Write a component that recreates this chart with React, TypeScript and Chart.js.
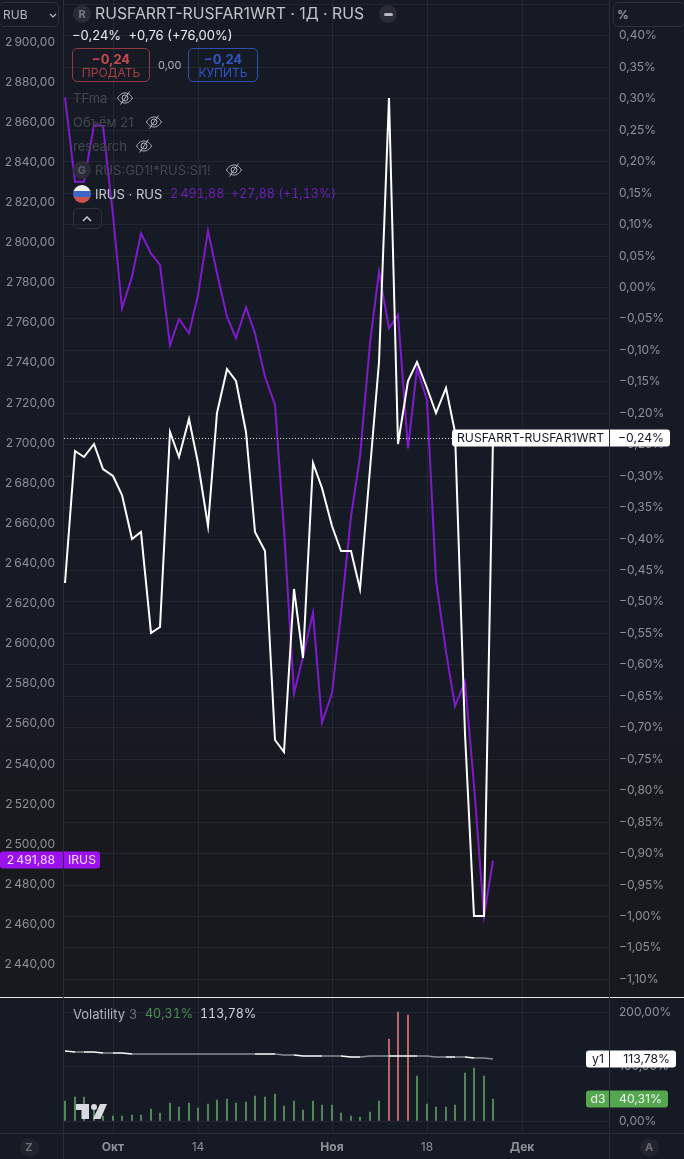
import { useEffect, useRef } from "react";
import type { CSSProperties, ReactNode } from "react";
import { Chart, registerables } from "chart.js";

Chart.register(...registerables);

const FONT = "Inter, sans-serif";

// closing values, one per trading day, Sep 24 - Nov 27
const irusValues = [
  2872.4, 2830.3, 2830.3, 2858.6, 2858.1, 2813.7, 2767.2, 2783, 2804.6, 2794.6, 2788.8, 2748.9, 2761.9, 2754.7, 2773.8, 2805.9,
  2784.7, 2763, 2752.3, 2767.7, 2754.7, 2733.1, 2719, 2656.7, 2575.2, 2593.5, 2615.4, 2560.6, 2575.2, 2615.1, 2663.3, 2693.2,
  2749.8, 2785.5, 2757.2, 2763.9, 2697.4, 2737.3, 2721.5, 2631.7, 2596, 2568.9, 2581, 2529.5, 2464, 2491.88,
];
const spreadValues = [
  -0.47, -0.26, -0.27, -0.25, -0.29, -0.3, -0.33, -0.4, -0.39, -0.55, -0.54, -0.23, -0.27, -0.21, -0.28, -0.38,
  -0.2, -0.13, -0.15, -0.23, -0.39, -0.42, -0.72, -0.74, -0.48, -0.59, -0.28, -0.32, -0.38, -0.42, -0.42, -0.48,
  -0.29, -0.12, 0.3, -0.25, -0.15, -0.12, -0.16, -0.2, -0.16, -0.23, -0.71, -1, -1, -0.24,
];
const volatilityD3 = [
  37.7, 45, 45, 20, 10.3, 10.3, 10.3, 12, 12, 23, 15.8, 34, 26.8, 34, 25, 32,
  39.5, 41.3, 34, 35.9, 46.8, 45, 50.5, 28.6, 37.7, 21.3, 37.7, 30.4, 30.4, 15.8, 10.3, 8.5,
  17.6, 37.7, 150.8, 200, 194.6, 83.3, 32.2, 26.8, 26.8, 30.4, 88.8, 97.9, 83.3, 40.31,
];
const volatilityY1 = [
  127.5, 127.2, 126.5, 126, 125.5, 125, 124.2, 123.2, 122.8, 122.8, 122.8, 122.8, 122.8, 122.8, 122.8, 122.8,
  122.8, 122.8, 122.8, 122.8, 122.8, 122.6, 121.9, 121.2, 120.4, 119.9, 119.2, 118.9, 118.9, 118.6, 118.2, 118.2,
  118.3, 118.6, 119, 119.3, 119, 118.8, 118.6, 118.2, 117.8, 117.5, 117.1, 116, 114.8, 113.78,
];
// 1 = bright segment of the y1 line, 0 = grey one
const y1Bright = [
  1, 0, 1, 1, 0, 1, 1, 0, 0, 0, 0, 0, 0, 0, 0, 0,
  0, 0, 0, 0, 1, 1, 0, 0, 1, 1, 1, 0, 0, 1, 1, 0,
  0, 0, 1, 1, 1, 0, 0, 0, 1, 0, 1, 0, 0,
];

const xTickIndex = [5, 14, 28, 38, 48];
const xTickLabels = ["Окт", "14", "Ноя", "18", "Дек"];
const xTickBold = ["Окт", "Ноя", "Дек"];
const priceTicks = [2440, 2460, 2480, 2500, 2520, 2540, 2560, 2580, 2600, 2620, 2640, 2660, 2680, 2700, 2720, 2740, 2760, 2780, 2800, 2820, 2840, 2860, 2880, 2900];
const percentTicks = [-1.1, -1.05, -1, -0.95, -0.9, -0.85, -0.8, -0.75, -0.7, -0.65, -0.6, -0.55, -0.5, -0.45, -0.4, -0.35, -0.3, -0.25, -0.2, -0.15, -0.1, -0.05, 0, 0.05, 0.1, 0.15, 0.2, 0.25, 0.3, 0.35, 0.4, 0.45];
const volatilityTicks = [0, 100, 200];

const GRID = "rgba(255,255,255,0.055)";
const LABEL = "#8f9198";
const PURPLE = "#7f1bca";
const PILL_PURPLE = "#9c12ee";
const GREEN = "#5f9d63";
const RED = "#e0766f";
const VOL_HIGH = 100;

const fmt = (v: number) => v.toFixed(2).replace(".", ",").replace("-", "\u2212");
const fmtPrice = (v: number) => {
  const s = fmt(v);
  return s.length > 6 ? s.slice(0, 1) + "\u2009" + s.slice(1) : s;
};
const fmtPct = (v: number) => fmt(Math.abs(v) < 0.001 ? 0 : v) + "%";
const xy = (values: number[]) => values.map((y, x) => ({ x, y }));

// chart.js reserves half a label plus tick padding around the area, this chart wants the panes edge to edge
const noPadding = (s: any) => {
  s.paddingTop = 0;
  s.paddingBottom = 0;
  s.paddingLeft = 0;
  s.paddingRight = 0;
};

const xScale = (opts: object) => ({
  type: "linear" as const,
  min: -0.137,
  max: 57.28,
  offset: false,
  alignToPixels: true,
  afterBuildTicks: (s: any) => {
    s.ticks = xTickIndex.map(value => ({ value }));
  },
  ...opts,
});

const pill = (ctx: CanvasRenderingContext2D, x: number, y: number, w: number, h: number, r: number | number[], fill: string) => {
  ctx.fillStyle = fill;
  ctx.beginPath();
  ctx.roundRect(x, y, w, h, r);
  ctx.fill();
};

const text = (ctx: CanvasRenderingContext2D, s: string, x: number, y: number, color: string, align: CanvasTextAlign = "left") => {
  ctx.fillStyle = color;
  ctx.textAlign = align;
  ctx.textBaseline = "middle";
  ctx.fillText(s, x, y);
};

// last value labels and dotted line of the main pane
const mainLabels = {
  id: "mainLabels",
  afterDraw(chart: any) {
    const { ctx, scales } = chart;
    const lastPct = spreadValues[spreadValues.length - 1];
    const lastPrice = irusValues[irusValues.length - 1];
    const py = Math.round(scales.pct.getPixelForValue(lastPct));
    const iy = Math.round(scales.price.getPixelForValue(lastPrice));
    ctx.save();
    ctx.font = `12.2px ${FONT}`;
    ctx.strokeStyle = "#e8e8e8";
    ctx.setLineDash([1, 2]);
    ctx.beginPath();
    ctx.moveTo(64, py + 0.5);
    ctx.lineTo(452, py + 0.5);
    ctx.stroke();
    ctx.setLineDash([]);
    pill(ctx, 452, py - 8.5, 157, 17, [3, 0, 0, 3], "#ffffff");
    pill(ctx, 610, py - 8.5, 60, 17, [0, 3, 3, 0], "#ffffff");
    text(ctx, "RUSFARRT-RUSFAR1WRT", 457, py, "#131722");
    text(ctx, fmtPct(lastPct), 664, py, "#131722", "right");
    pill(ctx, 0, iy - 8.5, 63, 17, [3, 0, 0, 3], PILL_PURPLE);
    pill(ctx, 64, iy - 8.5, 36, 17, [0, 3, 3, 0], PILL_PURPLE);
    text(ctx, fmtPrice(lastPrice), 55, iy, "#f3dcff", "right");
    text(ctx, "IRUS", 68, iy, "#f3dcff");
    ctx.restore();
  },
};

// y1 and d3 value labels of the lower pane
const volLabels = {
  id: "volLabels",
  afterDraw(chart: any) {
    const { ctx, scales } = chart;
    const lastY1 = volatilityY1[volatilityY1.length - 1];
    const lastD3 = volatilityD3[volatilityD3.length - 1];
    const y1 = Math.round(scales.vol.getPixelForValue(lastY1));
    const d3 = Math.round(scales.vol.getPixelForValue(lastD3));
    ctx.save();
    ctx.font = `12.2px ${FONT}`;
    pill(ctx, 586, y1 - 8.5, 23, 17, [3, 0, 0, 3], "#ffffff");
    pill(ctx, 610, y1 - 8.5, 66, 17, [0, 3, 3, 0], "#ffffff");
    text(ctx, "y1", 598, y1, "#131722", "center");
    text(ctx, fmtPct(lastY1), 670, y1, "#131722", "right");
    pill(ctx, 586, d3 - 8.5, 23, 17, [3, 0, 0, 3], "#54a64f");
    pill(ctx, 610, d3 - 8.5, 58, 17, [0, 3, 3, 0], "#54a64f");
    text(ctx, "d3", 598, d3, "#eef6ee", "center");
    text(ctx, fmtPct(lastD3), 662, d3, "#eef6ee", "right");
    ctx.restore();
  },
};

const T = ({ x, y, size = 13, color = "#d1d4dc", weight = 400, tnum = false, children, style }: { x: number; y: number; size?: number; color?: string; weight?: number; tnum?: boolean; children: ReactNode; style?: CSSProperties }) => (
  <div style={{ position: "absolute", left: x, top: y, transform: "translateY(-50%)", fontSize: size, color, fontWeight: weight, whiteSpace: "pre", lineHeight: 1, fontVariantNumeric: tnum ? "tabular-nums" : "normal", ...style }}>{children}</div>
);

const Circle = ({ x, y, r = 9, bg = "#2a2d37", color = "#787b84", size = 11, children }: { x: number; y: number; r?: number; bg?: string; color?: string; size?: number; children?: ReactNode }) => (
  <div style={{ position: "absolute", left: x - r, top: y - r, width: r * 2, height: r * 2, borderRadius: "50%", background: bg, color, fontSize: size, fontWeight: 700, display: "flex", alignItems: "center", justifyContent: "center" }}>{children}</div>
);

const Eye = ({ x, y }: { x: number; y: number }) => (
  <svg width="18" height="16" viewBox="0 0 18 16" style={{ position: "absolute", left: x - 9, top: y - 8 }} fill="none" stroke="#b4b6bc" strokeWidth="1">
    <path d="M1.5 8C4 4 6.5 3 9 3s5 1 7.500 5c-2.500 4-5 5-7.500 5s-5-1-7.500-5Z" />
    <circle cx="9" cy="8" r="3" />
    <path d="M13.500 1.500 4.500 14.500" />
  </svg>
);

const Box = ({ x, y, w, h, border, children }: { x: number; y: number; w: number; h: number; border: string; children?: ReactNode }) => (
  <div style={{ position: "absolute", left: x, top: y, width: w, height: h, boxSizing: "border-box", border: `1px solid ${border}`, borderRadius: 5 }}>{children}</div>
);

const VLine = ({ x, y, h }: { x: number; y: number; h: number }) => (
  <div style={{ position: "absolute", left: x, top: y, width: 1, height: h, background: "#2a2d37" }} />
);

export default function App() {
  const mainRef = useRef<HTMLCanvasElement | null>(null);
  const volRef = useRef<HTMLCanvasElement | null>(null);

  useEffect(() => {
    document.body.style.margin = "0";
    if (!mainRef.current || !volRef.current) return;

    const tickFont = { family: FONT, size: 12 };

    const main = new Chart(mainRef.current, {
      type: "line",
      data: {
        datasets: [
          { label: "RUSFARRT-RUSFAR1WRT", data: xy(spreadValues), yAxisID: "pct", borderColor: "#ffffff", borderWidth: 2, pointRadius: 0, tension: 0, order: 0, borderJoinStyle: "miter" },
          { label: "IRUS", data: xy(irusValues), yAxisID: "price", borderColor: PURPLE, borderWidth: 2, pointRadius: 0, tension: 0, order: 1, borderJoinStyle: "miter" },
        ],
      },
      options: {
        responsive: false,
        animation: false,
        events: [],
        layout: { padding: 0 },
        plugins: { legend: { display: false }, tooltip: { enabled: false } },
        scales: {
          x: xScale({
            display: true,
            grid: { color: GRID, drawTicks: false },
            border: { display: false },
            ticks: { display: false, autoSkip: false },
            afterFit: (s: any) => { s.height = 0; noPadding(s); },
          }),
          price: {
            type: "linear",
            position: "left",
            min: 2423.8,
            max: 2920.94,
            afterBuildTicks: (s: any) => { s.ticks = priceTicks.map(value => ({ value })); },
            afterFit: (s: any) => { s.width = 64; noPadding(s); },
            grid: { display: false, drawTicks: false },
            border: { display: false },
            ticks: { autoSkip: false, color: LABEL, font: tickFont, padding: 9, callback: (v: any) => fmtPrice(Number(v)) },
          },
          pct: {
            type: "linear",
            position: "right",
            min: -1.1288,
            max: 0.4563,
            alignToPixels: true,
            afterBuildTicks: (s: any) => { s.ticks = percentTicks.map(value => ({ value })); },
            afterFit: (s: any) => { s.width = 74; noPadding(s); },
            grid: { color: GRID, drawTicks: false },
            border: { display: false },
            ticks: { autoSkip: false, color: LABEL, font: tickFont, padding: 9, callback: (v: any) => (Number(v) > 0.42 ? "" : fmtPct(Number(v))) },
          },
        },
      } as any,
      plugins: [mainLabels],
    });

    const vol = new Chart(volRef.current, {
      data: {
        datasets: [
          {
            type: "line",
            label: "y1",
            data: xy(volatilityY1),
            yAxisID: "vol",
            borderColor: "#ffffff",
            borderWidth: 1.5,
            pointRadius: 0,
            tension: 0,
            order: 0,
            segment: { borderColor: (c: any) => (y1Bright[c.p0DataIndex] ? "#ffffff" : "#8c8e94") },
          },
          {
            type: "bar",
            label: "d3",
            data: xy(volatilityD3),
            yAxisID: "vol",
            barThickness: 1,
            order: 1,
            backgroundColor: volatilityD3.map(v => (v > VOL_HIGH ? RED : GREEN)),
          },
        ],
      },
      options: {
        responsive: false,
        animation: false,
        events: [],
        layout: { padding: 0 },
        plugins: { legend: { display: false }, tooltip: { enabled: false } },
        scales: {
          x: xScale({
            grid: { color: GRID, drawTicks: false, offset: false },
            border: { display: false },
            ticks: {
              autoSkip: false,
              maxRotation: 0,
              color: LABEL,
              padding: 7,
              font: (c: any) => ({ family: FONT, size: 12, weight: xTickBold.includes(c.tick?.label) ? "bold" : "normal" }),
              callback: (v: any) => xTickLabels[xTickIndex.indexOf(Number(v))],
            },
            afterFit: (s: any) => { s.height = 26; noPadding(s); },
          }),
          yPad: {
            type: "linear",
            position: "left",
            afterFit: (s: any) => { s.width = 64; noPadding(s); },
            grid: { display: false },
            border: { display: false },
            ticks: { display: false },
          },
          vol: {
            type: "linear",
            position: "right",
            min: -21.4,
            max: 225,
            alignToPixels: true,
            afterBuildTicks: (s: any) => { s.ticks = volatilityTicks.map(value => ({ value })); },
            afterFit: (s: any) => { s.width = 74; noPadding(s); },
            grid: { color: GRID, drawTicks: false },
            border: { display: false },
            ticks: { autoSkip: false, color: LABEL, font: tickFont, padding: 9, callback: (v: any) => fmtPct(Number(v)) },
          },
        },
      } as any,
      plugins: [volLabels],
    });

    return () => {
      main.destroy();
      vol.destroy();
    };
  }, []);

  return (
    <div style={{ position: "relative", width: 684, height: 1159, overflow: "hidden", fontFamily: FONT, background: "#161a25" }}>
      <div style={{ position: "absolute", left: 0, top: 0, width: 684, height: 997, background: "linear-gradient(#161a25 0, #161a25 690px, #18191f 790px, #18191f 997px)" }} />
      <canvas ref={mainRef} width={684} height={997} style={{ position: "absolute", left: 0, top: 0, width: 684, height: 997 }} />
      <div style={{ position: "absolute", left: 0, top: 997, width: 684, height: 1, background: "#e6e6e8" }} />
      <canvas ref={volRef} width={684} height={161} style={{ position: "absolute", left: 0, top: 998, width: 684, height: 161 }} />

      <VLine x={63} y={0} h={1159} />
      <VLine x={609} y={0} h={1159} />
      <div style={{ position: "absolute", left: 0, top: 1133, width: 684, height: 1, background: "#2a2d37" }} />

      <Box x={-1} y={2} w={60} h={25} border="#2e313b" />
      <T x={3} y={14.500} size={12} color="#b8bac0">RUB</T>
      <svg width="8" height="6" viewBox="0 0 8 6" style={{ position: "absolute", left: 49, top: 13 }} fill="none" stroke="#b8bac0" strokeWidth="1.200"><path d="M1 1l3 3 3-3" /></svg>
      <div style={{ position: "absolute", left: 613, top: 2, width: 72, height: 25, boxSizing: "border-box", border: "1px solid #2e313b", borderRadius: 5, background: "#161a25" }} />
      <T x={617} y={14.500} size={12} color="#b8bac0">%</T>

      <Circle x={82} y={14}>R</Circle>
      <T x={95} y={14} size={15.800} color="#c3c5cb">RUSFARRT-RUSFAR1WRT · 1Д · RUS</T>
      <Circle x={388} y={14}><div style={{ width: 9, height: 3, borderRadius: 2, background: "#b8bac0" }} /></Circle>

      <T x={72} y={35} size={13} color="#eceef2">{"\u22120,24%  +0,76 (+76,00%)"}</T>
      <Box x={72} y={48} w={78} h={34} border="#8e3d40" />
      <T x={72} y={59} size={13} color="#c9484c" weight={700} style={{ width: 78, textAlign: "center" }}>{"\u22120,24"}</T>
      <T x={72} y={73} size={12} color="#a8403f" style={{ width: 78, textAlign: "center" }}>ПРОДАТЬ</T>
      <T x={158} y={65} size={11} color="#aeb0b6">0,00</T>
      <Box x={188} y={48} w={70} h={34} border="#2f4ea8" />
      <T x={188} y={59} size={13} color="#2f56c4" weight={700} style={{ width: 70, textAlign: "center" }}>{"\u22120,24"}</T>
      <T x={188} y={73} size={12} color="#2f56c4" style={{ width: 70, textAlign: "center" }}>КУПИТЬ</T>

      <T x={73} y={98} color="#45474f">TFma</T>
      <Eye x={125} y={98} />
      <T x={73} y={122} color="#45474f">Объём 21</T>
      <Eye x={154} y={122} />
      <T x={73} y={146} color="#45474f">research</T>
      <Eye x={144} y={146} />
      <Circle x={82} y={170} color="#5c5e66">G</Circle>
      <T x={95} y={170} color="#45474f">RUS:GD1!*RUS:SI1!</T>
      <Eye x={234} y={170} />
      <div style={{ position: "absolute", left: 73, top: 185, width: 18, height: 18, borderRadius: "50%", background: "linear-gradient(#f0f0f0 0, #f0f0f0 34%, #3f66c8 34%, #3f66c8 66%, #d0504c 66%, #d0504c 100%)" }} />
      <T x={95} y={194} color="#c8cad0">IRUS · RUS</T>
      <T x={170} y={194} size={12.500} tnum color="#6f1fb2">{"2\u2009491,88  +27,88 (+1,13%)"}</T>
      <Box x={73} y={208} w={29} h={21} border="#2e313b" />
      <svg width="10" height="6" viewBox="0 0 10 6" style={{ position: "absolute", left: 82, top: 216 }} fill="none" stroke="#d1d4dc" strokeWidth="1.400"><path d="M1 5l4-4 4 4" /></svg>

      <T x={73} y={1014} color="#b2b5be">Volatility</T>
      <T x={129} y={1014} color="#6b6e76">3</T>
      <T x={145} y={1014} size={12.500} tnum color="#4f8c54">40,31%</T>
      <T x={200} y={1014} size={12.500} tnum color="#d1d4dc">113,78%</T>

      <svg width="32" height="17" viewBox="0 0 32 17" style={{ position: "absolute", left: 75, top: 1103 }} fill="#d9dae0">
        <path d="M1 1h13v15H6.500V7H1Z" />
        <circle cx="19" cy="4" r="3" />
        <path d="M25 1h7l-6.500 15H18Z" />
      </svg>

      <Circle x={29} y={1147} r={9.500} bg="#22242d" color="#6b6e76">Z</Circle>
      <Circle x={649} y={1147} r={9.500} bg="#22242d" color="#6b6e76">A</Circle>
    </div>
  );
}
